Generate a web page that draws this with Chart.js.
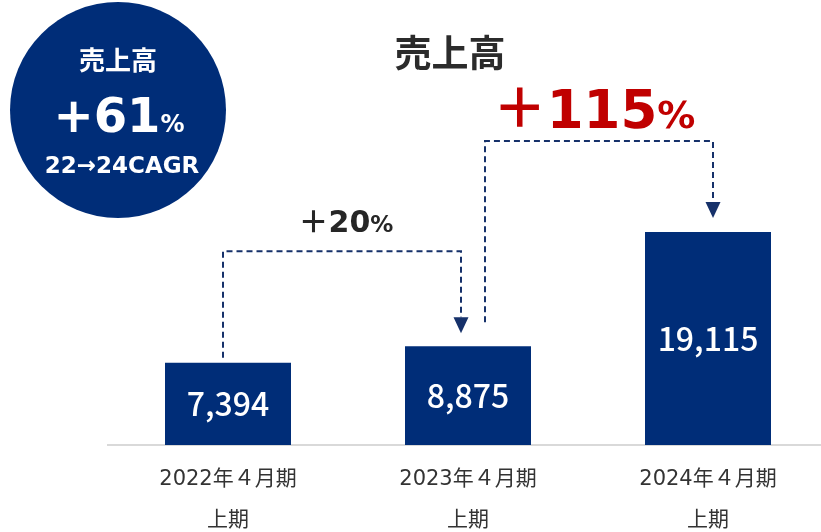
<!DOCTYPE html>
<html lang="ja">
<head>
<meta charset="UTF-8">
<title>売上高</title>
<script src="https://cdn.jsdelivr.net/npm/chart.js"></script>
<style>
  html, body { margin: 0; padding: 0; background: #fff; overflow: hidden; }
  #wrap { width: 821px; height: 532px; overflow: hidden; }
  #chart { display: block; }
</style>
</head>
<body>
<div id="wrap"><canvas id="chart" width="828" height="532"></canvas></div>
<script>
  // data
  const periods = ['2022年４月期', '2023年４月期', '2024年４月期'];
  const halves = ['上期', '上期', '上期'];
  const sales = [7394, 8875, 19115];
  const growth = ['20', '115'];
  const chartTitle = '売上高';
  const badgeTitle = '売上高';
  const badgeValue = '+61';
  const badgeNote = '22→24CAGR';

  const JP = '"Noto Sans CJK JP", "Noto Sans", sans-serif';
  const WIDE = '"DejaVu Sans", "Noto Sans CJK JP", sans-serif';
  const NAVY = '#002D78';
  const LINE = '#16316a';

  // draws several text parts side by side, centered on cx
  function mixed(ctx, parts, cx, y) {
    let w = 0;
    parts.forEach(p => { ctx.font = p.font; p.w = ctx.measureText(p.text).width; w += p.w; });
    let x = cx - w / 2;
    ctx.textAlign = 'left';
    ctx.textBaseline = 'alphabetic';
    parts.forEach(p => { ctx.font = p.font; ctx.fillStyle = p.color; ctx.fillText(p.text, x, y); x += p.w; });
  }

  function connector(ctx, pts, tipY) {
    ctx.save();
    ctx.strokeStyle = LINE;
    ctx.lineWidth = 2;
    ctx.setLineDash([6, 4]);
    ctx.beginPath();
    ctx.moveTo(pts[0][0], pts[0][1]);
    pts.slice(1).forEach(p => ctx.lineTo(p[0], p[1]));
    ctx.stroke();
    ctx.setLineDash([]);
    const [ax, ay] = pts[pts.length - 1];
    ctx.fillStyle = LINE;
    ctx.beginPath();
    ctx.moveTo(ax - 7.5, ay);
    ctx.lineTo(ax + 7.5, ay);
    ctx.lineTo(ax, tipY);
    ctx.closePath();
    ctx.fill();
    ctx.restore();
  }

  const decorations = {
    id: 'decorations',
    afterDatasetsDraw(chart) {
      const ctx = chart.ctx;
      const bars = chart.getDatasetMeta(0).data;

      // values inside bars
      ctx.save();
      ctx.fillStyle = '#fff';
      ctx.font = '500 32px ' + JP;
      ctx.textAlign = 'center';
      ctx.textBaseline = 'middle';
      bars.forEach((b, i) => ctx.fillText(sales[i].toLocaleString('en-US'), b.x, (b.y + b.base) / 2));
      ctx.restore();

      const [b0, b1, b2] = bars;

      // growth connectors
      const y1 = b1.y - 95;
      connector(ctx, [[b0.x - 5, b0.y - 5], [b0.x - 5, y1], [b1.x - 7, y1], [b1.x - 7, b1.y - 29]], b1.y - 13);
      const y2 = b2.y - 91;
      connector(ctx, [[b1.x + 17, b1.y - 24], [b1.x + 17, y2], [b2.x + 5, y2], [b2.x + 5, b2.y - 30]], b2.y - 14);

      ctx.save();
      mixed(ctx, [
        { text: '＋', font: 'bold 30px ' + JP, color: '#262626' },
        { text: growth[0], font: 'bold 30px ' + WIDE, color: '#262626' },
        { text: '%', font: 'bold 23px ' + WIDE, color: '#262626' }
      ], (b0.x + b1.x) / 2 - 2, b1.y - 114);
      mixed(ctx, [
        { text: '＋', font: 'bold 54px ' + JP, color: '#C00000' },
        { text: growth[1], font: 'bold 53px ' + WIDE, color: '#C00000' },
        { text: '%', font: 'bold 38px ' + WIDE, color: '#C00000' }
      ], (b1.x + b2.x) / 2 + 6, b2.y - 104);

      // title
      ctx.fillStyle = '#2b2b2b';
      ctx.font = 'bold 37px ' + JP;
      ctx.textAlign = 'center';
      ctx.textBaseline = 'middle';
      ctx.fillText(chartTitle, 450, 53);

      // CAGR badge
      ctx.fillStyle = NAVY;
      ctx.beginPath();
      ctx.arc(118, 110, 108, 0, Math.PI * 2);
      ctx.fill();
      ctx.fillStyle = '#fff';
      ctx.font = 'bold 26px ' + JP;
      ctx.fillText(badgeTitle, 118, 60);
      mixed(ctx, [
        { text: badgeValue, font: 'bold 48px ' + WIDE, color: '#fff' },
        { text: '%', font: 'bold 24px ' + WIDE, color: '#fff' }
      ], 119, 132);
      mixed(ctx, [
        { text: badgeNote, font: 'bold 23px ' + WIDE, color: '#fff' }
      ], 122, 173);
      ctx.restore();
    }
  };

  new Chart(document.getElementById('chart'), {
    type: 'bar',
    data: {
      labels: periods.map((p, i) => [p, halves[i]]),
      datasets: [{
        data: sales,
        backgroundColor: NAVY,
        barPercentage: 0.525,
        categoryPercentage: 1
      }]
    },
    options: {
      responsive: false,
      animation: false,
      events: [],
      layout: { padding: { top: 5, left: 108, right: 0, bottom: 0 } },
      plugins: { legend: { display: false }, tooltip: { enabled: false } },
      scales: {
        x: {
          grid: { display: false, drawTicks: false },
          border: { display: true, color: '#d9d9d9', width: 2 },
          ticks: {
            color: '#333',
            font: { family: WIDE, size: 21, lineHeight: 1.95 },
            padding: 14,
            autoSkip: false,
            maxRotation: 0
          },
          afterFit: s => { s.height = 87; }
        },
        y: { display: false, min: 0, max: 39500 }
      }
    },
    plugins: [decorations]
  });
</script>
</body>
</html>
